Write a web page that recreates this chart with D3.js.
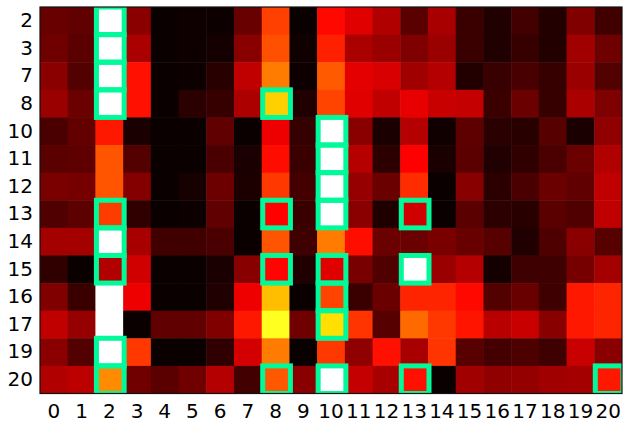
<!DOCTYPE html>
<html>
<head>
<meta charset="utf-8">
<script src="https://cdn.jsdelivr.net/npm/d3@7"></script>
<style>
  html, body { margin: 0; padding: 0; background: #fff; }
  svg { display: block; }
  .tick text { font-family: "DejaVu Sans", sans-serif; font-size: 20px; fill: #000; }
</style>
</head>
<body>
<svg id="chart" width="630" height="429"></svg>
<script>
const columns = d3.range(0, 21);
const rows = [2, 3, 7, 8, 10, 11, 12, 13, 14, 15, 16, 17, 19, 20];

const row2  = [0.141,0.128,1,0.190,0.000,0.005,0.002,0.141,0.461,0.000,0.377,0.319,0.247,0.119,0.235,0.071,0.032,0.083,0.035,0.175,0.080];
const row3  = [0.151,0.119,1,0.238,0.000,0.005,0.014,0.187,0.485,0.008,0.413,0.238,0.214,0.172,0.214,0.071,0.032,0.065,0.035,0.223,0.148];
const row7  = [0.190,0.107,1,0.389,0.000,0.002,0.044,0.271,0.550,0.005,0.499,0.325,0.307,0.223,0.253,0.035,0.068,0.092,0.065,0.214,0.107];
const row8  = [0.214,0.142,1,0.389,0.000,0.047,0.065,0.241,0.676,0.032,0.467,0.319,0.271,0.331,0.283,0.277,0.071,0.142,0.065,0.238,0.172];
const row10 = [0.095,0.131,0.401,0.023,0.000,0.000,0.128,0.000,0.340,0.062,1,0.190,0.023,0.253,0.008,0.125,0.047,0.044,0.113,0.023,0.199];
const row11 = [0.119,0.125,0.491,0.107,0.000,0.000,0.095,0.023,0.383,0.071,1,0.256,0.050,0.365,0.023,0.119,0.032,0.056,0.095,0.142,0.247];
const row12 = [0.166,0.160,0.491,0.181,0.000,0.017,0.145,0.026,0.449,0.086,1,0.208,0.142,0.431,0.000,0.187,0.050,0.095,0.142,0.128,0.271];
const row13 = [0.104,0.122,0.455,0.056,0.000,0.002,0.128,0.000,0.368,0.071,1,0.190,0.029,0.295,0.000,0.119,0.050,0.044,0.119,0.104,0.271];
const row14 = [0.229,0.229,1,0.235,0.080,0.080,0.095,0.000,0.491,0.077,0.550,0.386,0.142,0.142,0.166,0.140,0.113,0.032,0.101,0.190,0.113];
const row15 = [0.056,0.000,0.247,0.295,0.000,0.000,0.023,0.187,0.371,0.032,0.319,0.163,0.104,1,0.214,0.253,0.014,0.077,0.077,0.160,0.229];
const row16 = [0.175,0.071,1,0.340,0.000,0.000,0.032,0.340,0.649,0.000,0.467,0.071,0.142,0.419,0.419,0.377,0.107,0.140,0.077,0.401,0.419];
const row17 = [0.271,0.208,1,0.000,0.128,0.128,0.175,0.401,0.778,0.151,0.700,0.443,0.113,0.523,0.449,0.395,0.259,0.283,0.187,0.401,0.419];
const row19 = [0.190,0.107,1,0.449,0.000,0.000,0.056,0.301,0.550,0.000,0.449,0.199,0.389,0.235,0.443,0.116,0.086,0.098,0.077,0.283,0.190];
const row20 = [0.247,0.265,0.574,0.151,0.119,0.151,0.253,0.083,0.496,0.190,1,0.277,0.235,0.389,0.000,0.223,0.199,0.205,0.223,0.229,0.401];

const matrix = [row2,row3,row7,row8,row10,row11,row12,row13,row14,row15,row16,row17,row19,row20];

// highlighted cells: [row label, column label]
const highlights = [
  [2,2],[3,2],[7,2],[8,2],[8,8],
  [10,10],[11,10],[12,10],
  [13,2],[13,8],[13,10],[13,13],
  [14,2],
  [15,2],[15,8],[15,10],[15,13],
  [16,10],[17,10],
  [19,2],
  [20,2],[20,8],[20,10],[20,13],[20,20]
];

// matplotlib "hot" colormap
function hot(t) {
  t = Math.max(0, Math.min(1, t));
  const r = t < 0.365079 ? 0.0416 + (t / 0.365079) * (1 - 0.0416) : 1;
  const g = t < 0.365079 ? 0 : (t < 0.746032 ? (t - 0.365079) / (0.746032 - 0.365079) : 1);
  const b = t < 0.746032 ? 0 : (t - 0.746032) / (1 - 0.746032);
  return d3.rgb(r * 255, g * 255, b * 255).toString();
}
const colorPos = d3.scaleLinear().domain([0, 1]).range([0, 1]).clamp(true);

const plotL = 40, plotR = 622, plotT = 7, plotB = 393.5;
const x = d3.scaleBand().domain(columns).range([plotL, plotR]).padding(0);
const y = d3.scaleBand().domain(rows).range([plotT, plotB]).padding(0);

const svg = d3.select("#chart");

svg.append("defs").append("clipPath").attr("id", "plotclip")
  .append("rect").attr("x", plotL).attr("y", plotT)
  .attr("width", plotR - plotL).attr("height", plotB - plotT);

const cells = [];
rows.forEach((r, i) => columns.forEach((c, j) => cells.push({ r, c, v: matrix[i][j] })));

svg.append("g").attr("clip-path", "url(#plotclip)")
  .selectAll("rect").data(cells).join("rect")
  .attr("x", d => x(d.c))
  .attr("y", d => y(d.r))
  .attr("width", x.bandwidth() + 0.5)
  .attr("height", y.bandwidth() + 0.5)
  .attr("fill", d => hot(colorPos(d.v)));

svg.append("g").attr("clip-path", "url(#plotclip)")
  .selectAll("rect").data(highlights).join("rect")
  .attr("x", d => x(d[1]) + 1)
  .attr("y", d => y(d[0]))
  .attr("width", x.bandwidth())
  .attr("height", y.bandwidth())
  .attr("fill", "none")
  .attr("stroke", "#00FA9A")
  .attr("stroke-width", 5);

svg.append("rect")
  .attr("x", plotL).attr("y", plotT)
  .attr("width", plotR - plotL).attr("height", plotB - plotT)
  .attr("fill", "none").attr("stroke", "#111").attr("stroke-width", 1.2);

const xAxis = svg.append("g").attr("transform", `translate(0,${plotB})`)
  .call(d3.axisBottom(x).tickSize(0).tickPadding(10));
xAxis.select(".domain").remove();

const yAxis = svg.append("g").attr("transform", `translate(${plotL},0)`)
  .call(d3.axisLeft(y).tickSize(0).tickPadding(7));
yAxis.select(".domain").remove();
</script>
</body>
</html>
